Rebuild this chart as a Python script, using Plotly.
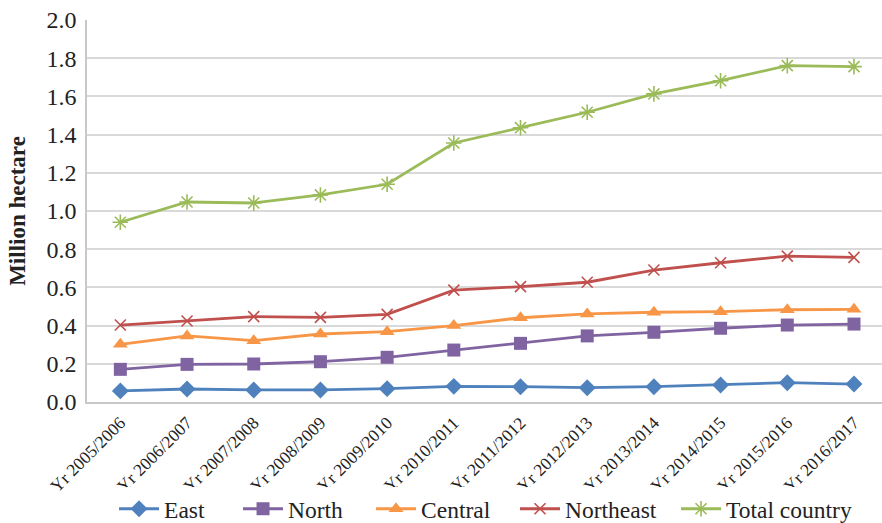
import plotly.graph_objects as go

# Seasons on the x axis
seasons = ["Yr 2005/2006", "Yr 2006/2007", "Yr 2007/2008", "Yr 2008/2009",
           "Yr 2009/2010", "Yr 2010/2011", "Yr 2011/2012", "Yr 2012/2013",
           "Yr 2013/2014", "Yr 2014/2015", "Yr 2015/2016", "Yr 2016/2017"]

# Area (million hectare) per region
east = [0.058, 0.068, 0.063, 0.063, 0.070, 0.082, 0.080, 0.075, 0.080, 0.089, 0.101, 0.094]
north = [0.171, 0.197, 0.199, 0.211, 0.234, 0.272, 0.307, 0.346, 0.365, 0.386, 0.403, 0.408]
central = [0.302, 0.346, 0.321, 0.356, 0.368, 0.400, 0.441, 0.461, 0.470, 0.473, 0.483, 0.485]
northeast = [0.403, 0.424, 0.447, 0.443, 0.459, 0.586, 0.604, 0.627, 0.691, 0.729, 0.764, 0.757]
total_country = [0.941, 1.047, 1.042, 1.084, 1.140, 1.356, 1.436, 1.517, 1.613, 1.682, 1.761, 1.756]

y_ticks = [0.0, 0.2, 0.4, 0.6, 0.8, 1.0, 1.2, 1.4, 1.6, 1.8, 2.0]

FONT = "Liberation Serif, Times New Roman, serif"
TEXT = "#222222"

# name, values, colour, marker, legend entry width (px)
series = [
    ("East", east, "#4F81BD", dict(symbol="diamond", size=13), 69),
    ("North", north, "#8064A2", dict(symbol="square", size=13), 78),
    ("Central", central, "#F79646", dict(symbol="triangle-up", size=13), 89),
    ("Northeast", northeast, "#C0504D",
     dict(symbol="x-thin-open", size=11, line=dict(width=1.6, color="#C0504D")), 106),
    ("Total country", total_country, "#9BBB59",
     dict(symbol="asterisk-open", size=13, line=dict(width=1.6, color="#9BBB59")), 130),
]

fig = go.Figure()
for name, vals, color, marker, lw in series:
    fig.add_trace(go.Scatter(
        x=list(range(len(seasons))), y=vals, name=name, mode="lines+markers",
        line=dict(color=color, width=2.8),
        marker=dict(color=color, **marker),
        legendwidth=lw,
    ))

fig.update_layout(
    width=882, height=523,
    margin=dict(l=87, r=0, t=20, b=121, autoexpand=False),
    paper_bgcolor="white", plot_bgcolor="white",
    font=dict(family=FONT, color=TEXT),
    showlegend=True,
    legend=dict(orientation="h", x=0.034, xanchor="left", y=-0.28, yanchor="middle",
                font=dict(family=FONT, size=23.5, color=TEXT),
                itemwidth=40, tracegroupgap=0),
    xaxis=dict(
        tickmode="array", tickvals=list(range(len(seasons))), ticktext=seasons,
        range=[-0.5, 11.42], tickangle=-45, automargin=False,
        tickfont=dict(family=FONT, size=17.5, color=TEXT),
        showgrid=False, zeroline=False,
        showline=True, linecolor="#c8c8c8", linewidth=1.5,
        ticks="outside", ticklen=2, tickcolor="rgba(0,0,0,0)",
    ),
    yaxis=dict(
        range=[0, 2.0], tickmode="array", tickvals=y_ticks,
        ticktext=[f"{v:.1f}" for v in y_ticks], automargin=False,
        tickfont=dict(family=FONT, size=24, color=TEXT),
        showgrid=True, gridcolor="#d9d9d9", gridwidth=1.5, zeroline=False,
        showline=True, linecolor="#c8c8c8", linewidth=1.5,
        ticks="outside", ticklen=4, tickcolor="rgba(0,0,0,0)",
        title=dict(text="<b>Million hectare</b>",
                   font=dict(family=FONT, size=23, color=TEXT), standoff=14),
    ),
)

fig.write_html("out.html")
